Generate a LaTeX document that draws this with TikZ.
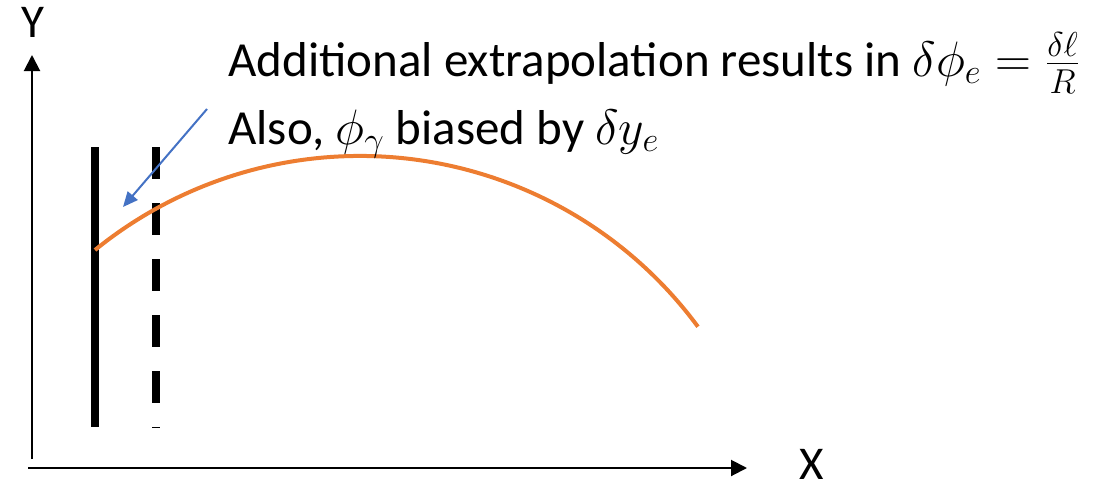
\documentclass[tikz,border=0pt]{standalone}
\usepackage{fontspec}
\setmainfont{Carlito}
\usetikzlibrary{arrows.meta}
\definecolor{curveorange}{HTML}{ED7D31}
\definecolor{arrowblue}{HTML}{4472C4}
\tikzset{
  axisline/.style={line width=1pt,-{Triangle[length=8pt,width=8pt]}},
  barline/.style={line width=4pt,line cap=butt},
  dashbar/.style={line width=4pt,line cap=butt,dash pattern=on 16pt off 12pt},
  trackline/.style={line width=2pt,curveorange},
  pointer/.style={line width=1pt,arrowblue,-{Triangle[length=7.5pt,width=6.5pt]}},
  txt/.style={font=\fontsize{24.5pt}{29pt}\selectfont,inner sep=0pt,anchor=base west},
  axlabel/.style={font=\fontsize{23.5pt}{28pt}\selectfont,inner sep=0pt,anchor=base}
}
\begin{document}
\begin{tikzpicture}[x=0.5pt,y=-0.5pt]
\useasboundingbox (0,0) rectangle (1107,487);
% axes
\coordinate (yfoot) at (32,459);
\coordinate (ytip) at (32,55);
\coordinate (xfoot) at (28,468);
\coordinate (xtip) at (747,468);
\draw[axisline] (yfoot) -- (ytip);
\draw[axisline] (xfoot) -- (xtip);
\node[axlabel] (ylab) at (33,37) {Y};
\node[axlabel] (xlab) at (812,479) {X};
% bars
\coordinate (s1) at (95,147);
\coordinate (s2) at (95,427);
\coordinate (d1) at (156,147);
\coordinate (d2) at (156,428);
\draw[barline] (s1) -- (s2);
\draw[dashbar] (d1) -- (d2);
% track
\coordinate (tstart) at (95,250);
\draw[trackline] (tstart) arc[start angle=129.1,end angle=36.4,radius=210pt];
% pointer
\coordinate (pstart) at (207,109);
\coordinate (ptip) at (123,207);
\draw[pointer] (pstart) -- (ptip);
% texts
\node[txt] (line1) at (228,76) {Additional extrapolation results in $\delta\phi_e=\frac{\delta\ell}{R}$};
\node[txt] (line2) at (228,144) {Also, $\phi_\gamma$ biased by $\delta y_e$};
\end{tikzpicture}
\end{document}
